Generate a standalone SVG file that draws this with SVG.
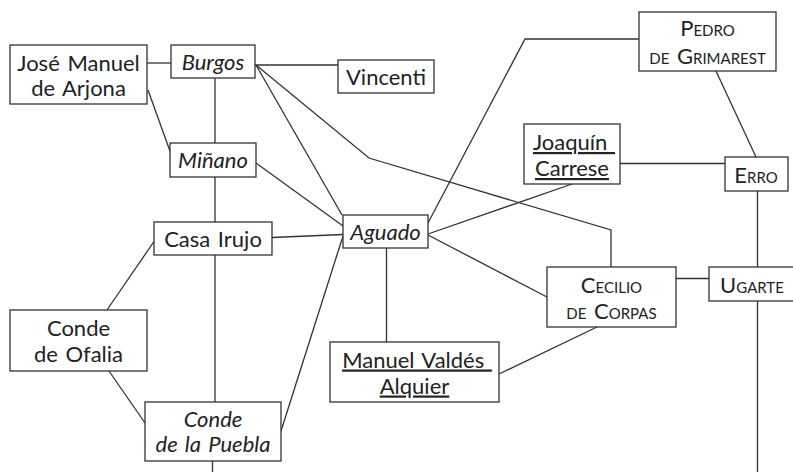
<svg xmlns="http://www.w3.org/2000/svg" width="793" height="472" viewBox="0 0 793 472">
<style>
  .box { fill: #ffffff; stroke: #333333; stroke-width: 1.3; }
  .edge { fill: none; stroke: #333333; stroke-width: 1.3; }
  text { font-family: "Lato", "Open Sans", "DejaVu Sans", sans-serif; font-size: 22px; fill: #222222; text-anchor: middle; word-spacing: 2px; }
  .it { font-style: italic; }
  .sc { font-variant: small-caps; }
  .ul { text-decoration: underline; }
</style>
<rect width="793" height="472" fill="#ffffff"/>
<g id="connectors">
  <line class="edge" x1="147" y1="63" x2="171" y2="63"/>
  <line class="edge" x1="255" y1="65" x2="338" y2="65"/>
  <line class="edge" x1="215" y1="78" x2="215" y2="143"/>
  <line class="edge" x1="148" y1="90" x2="171" y2="154"/>
  <line class="edge" x1="256" y1="65" x2="342" y2="215"/>
  <polyline class="edge" points="256,65 369,158 611,230 611,267"/>
  <line class="edge" x1="256" y1="163" x2="343" y2="226"/>
  <line class="edge" x1="215" y1="177" x2="215" y2="222"/>
  <line class="edge" x1="272" y1="237.5" x2="343" y2="234.5"/>
  <polyline class="edge" points="428,223 525,39 639,39"/>
  <line class="edge" x1="716" y1="71" x2="756" y2="157"/>
  <line class="edge" x1="620" y1="163.5" x2="725" y2="163.5"/>
  <line class="edge" x1="757.5" y1="191" x2="757.5" y2="267"/>
  <line class="edge" x1="572" y1="184" x2="428" y2="234"/>
  <line class="edge" x1="428" y1="235" x2="547" y2="297"/>
  <line class="edge" x1="676" y1="278.5" x2="709" y2="278.5"/>
  <line class="edge" x1="757.5" y1="301" x2="757.5" y2="472"/>
  <line class="edge" x1="386.5" y1="248" x2="386.5" y2="342"/>
  <line class="edge" x1="597" y1="327" x2="499" y2="374"/>
  <line class="edge" x1="154" y1="241.5" x2="107" y2="310"/>
  <line class="edge" x1="109" y1="371" x2="145" y2="423"/>
  <line class="edge" x1="215" y1="255" x2="215" y2="402"/>
  <line class="edge" x1="212.5" y1="461" x2="212.5" y2="472"/>
  <line class="edge" x1="343" y1="236" x2="281" y2="431"/>
</g>
<g id="jose-manuel-de-arjona">
  <rect class="box" x="10" y="45" width="137" height="59"/>
  <text x="78.5" y="70.5">José Manuel</text>
  <text x="78.5" y="96">de Arjona</text>
</g>
<g id="burgos">
  <rect class="box" x="171" y="45" width="84" height="33"/>
  <text class="it" x="213" y="70">Burgos</text>
</g>
<g id="vincenti">
  <rect class="box" x="338" y="60" width="96" height="33"/>
  <text x="386" y="85">Vincenti</text>
</g>
<g id="minano">
  <rect class="box" x="170" y="143" width="86" height="34"/>
  <text class="it" x="213" y="168">Miñano</text>
</g>
<g id="casa-irujo">
  <rect class="box" x="154" y="222" width="118" height="33"/>
  <text x="213" y="246.5">Casa Irujo</text>
</g>
<g id="aguado">
  <rect class="box" x="343" y="215" width="85" height="33"/>
  <text class="it" x="385.5" y="239.5">Aguado</text>
</g>
<g id="conde-de-ofalia">
  <rect class="box" x="10" y="310" width="137" height="61"/>
  <text x="78.5" y="336">Conde</text>
  <text x="78.5" y="362">de Ofalia</text>
</g>
<g id="conde-de-la-puebla">
  <rect class="box" x="145" y="402" width="136" height="59"/>
  <text class="it" x="213" y="427">Conde</text>
  <text class="it" x="213" y="452">de la Puebla</text>
</g>
<g id="manuel-valdes-alquier">
  <rect class="box" x="330" y="342" width="169" height="60"/>
  <text class="ul" x="417" y="367.5" xml:space="preserve">Manuel Valdés </text>
  <text class="ul" x="414.5" y="393.5">Alquier</text>
</g>
<g id="cecilio-de-corpas">
  <rect class="box" x="547" y="267" width="129" height="60"/>
  <text class="sc" x="611.5" y="292.5">Cecilio</text>
  <text class="sc" x="611.5" y="318.5">de Corpas</text>
</g>
<g id="ugarte">
  <rect class="box" x="709" y="267" width="85" height="34"/>
  <text class="sc" x="752" y="292.5">Ugarte</text>
</g>
<g id="pedro-de-grimarest">
  <rect class="box" x="639" y="12" width="137" height="59"/>
  <text class="sc" x="707.5" y="36">Pedro</text>
  <text class="sc" x="707.5" y="63.5">de Grimarest</text>
</g>
<g id="joaquin-carrese">
  <rect class="box" x="524" y="124" width="96" height="60"/>
  <text class="ul" x="574" y="150" xml:space="preserve">Joaquín </text>
  <text class="ul" x="572" y="176">Carrese</text>
</g>
<g id="erro">
  <rect class="box" x="725" y="157" width="63" height="34"/>
  <text class="sc" x="756" y="183">Erro</text>
</g>
</svg>
